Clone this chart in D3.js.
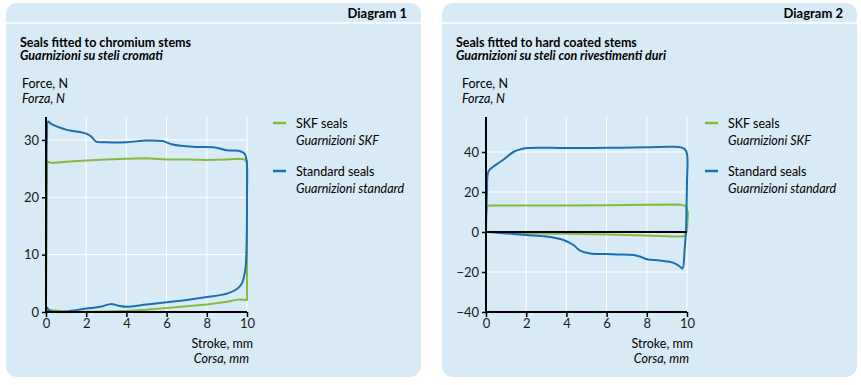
<!DOCTYPE html>
<html>
<head>
<meta charset="utf-8">
<script src="https://cdn.jsdelivr.net/npm/d3@7"></script>
<style>
  body { margin: 0; background: #fff; }
  svg { display: block; font-family: Lato, "Open Sans", sans-serif; }
</style>
</head>
<body>
<script>
"use strict";

// stroke ticks (mm) and force ticks (N)
var strokeTicks = [0, 2, 4, 6, 8, 10];
var forceTicks1 = [0, 10, 20, 30];
var forceTicks2 = [-40, -20, 0, 20, 40];

// Diagram 1 - chromium stems, [stroke, force]
var skfChromium = [[0,0],[0.02,18],[0.06,26.2],[0.3,26.0],[1,26.2],[2,26.4],[3,26.6],[4,26.7],[5,26.8],[6,26.6],
  [7,26.6],[8,26.5],[9,26.6],[9.6,26.7],[9.9,26.6],[10,26.1],[10,14],[10,2.1],[9.6,2.2],[9,1.8],[8,1.3],
  [7,1.0],[6,0.7],[5,0.4],[4,0.2],[3,0.1],[2,0.05],[1,0.1],[0.3,0.3],[0.1,0.4],[0,0]];
var stdChromium = [[0,0],[0.02,20],[0.05,31],[0.1,33.2],[0.3,32.7],[1.0,31.8],[2.0,31.1],[2.25,30.6],[2.5,29.7],
  [3.0,29.6],[4.0,29.6],[5.0,29.9],[5.8,29.8],[6.3,29.2],[7.3,28.8],[8.4,28.7],[9.0,28.2],[9.6,28.1],
  [9.88,27.6],[9.98,26.5],[10.0,20],[9.98,12],[9.92,7.5],[9.75,5.0],[9.5,4.0],[9.0,3.2],[8.0,2.6],
  [7.0,2.1],[6.0,1.7],[5.0,1.3],[4.0,0.9],[3.6,1.1],[3.25,1.4],[2.7,0.9],[2.0,0.6],[1.0,0.1],[0.5,0.05],
  [0.15,0.3],[0.05,0.8],[0,0]];

// Diagram 2 - hard coated stems
var skfCoated = [[0,0],[0,9],[0.05,13],[0.2,13.2],[2,13.2],[4,13.3],[6,13.4],[8,13.6],[9.67,13.7],[9.95,13],
  [10.05,9.5],[10,1],[9.92,-2],[9.7,-2.3],[9.3,-2.2],[8,-1.8],[6,-1.2],[4,-0.9],[2.7,-0.7],[1,-0.3],[0.1,0],[0,0]];
var stdCoated = [[0,0],[0.05,20],[0.12,30.2],[0.37,32.7],[0.7,35],[1.03,37.5],[1.36,40.0],[1.7,41.3],[2.03,42],
  [4,42],[6,42.1],[8,42.4],[9.3,42.6],[9.7,42.3],[9.88,41.5],[10,39],[10,25],[9.98,14],[9.95,1],[9.88,-9],
  [9.78,-18.2],[9.68,-17.6],[9.58,-16.8],[9.3,-15.3],[8.67,-14.3],[8,-13.6],[7.7,-12.4],[7.34,-11.5],
  [6.5,-11.2],[6,-11],[5.18,-10.7],[4.68,-9.3],[4.35,-6.5],[3.85,-4],[3.0,-2.3],[2,-1.5],[1,-0.7],[0.1,0],[0,0]];

var green = "#86bc3b",
    blue = "#1b6fb1",
    panelBg = "#d9eaf7";

var svg = d3.select("body").append("svg")
    .attr("width", 861)
    .attr("height", 385);

function drawPanel(p){
  var g = svg.append("g").attr("transform", "translate(" + p.x + ",3)");

  g.append("rect")
      .attr("width", 415).attr("height", 374)
      .attr("rx", 11).attr("ry", 11)
      .attr("fill", panelBg);
  g.append("line")
      .attr("x1", 0).attr("x2", 415)
      .attr("y1", 20).attr("y2", 20)
      .style("stroke", "#ffffff").style("stroke-width", 1.5);

  g.append("text").attr("x", 401).attr("y", 15)
      .attr("text-anchor", "end")
      .style("font-size", "13px").style("font-weight", "bold")
      .text(p.diagram);

  g.append("text").attr("x", 14).attr("y", 43.5)
      .style("font-size", "12.5px").style("font-weight", "bold")
      .text(p.title);
  g.append("text").attr("x", 14).attr("y", 57)
      .style("font-size", "12.5px").style("font-weight", "bold").style("font-style", "italic")
      .text(p.titleIt);

  g.append("text").attr("x", p.left - 24).attr("y", 85)
      .style("font-size", "12.5px").text("Force, N");
  g.append("text").attr("x", p.left - 24).attr("y", 100)
      .style("font-size", "12.5px").style("font-style", "italic").text("Forza, N");

  var x = d3.scaleLinear().domain([0, 10]).range([p.left, p.left + 201]);
  var y = d3.scaleLinear().domain(p.yDomain).range([309, 114]);

  // grid
  g.append("g").selectAll("line.v")
      .data(strokeTicks.slice(1)).enter().append("line")
      .attr("x1", function(d){ return x(d); }).attr("x2", function(d){ return x(d); })
      .attr("y1", 114).attr("y2", 309)
      .style("stroke", "#ffffff").style("stroke-width", 1);
  g.append("g").selectAll("line.h")
      .data(p.yTicks).enter().append("line")
      .attr("x1", x(0)).attr("x2", x(10))
      .attr("y1", function(d){ return y(d); }).attr("y2", function(d){ return y(d); })
      .style("stroke", "#ffffff").style("stroke-width", 1);

  var smooth = d3.line()
      .x(function(d){ return x(d[0]); })
      .y(function(d){ return y(d[1]); })
      .curve(d3.curveCatmullRom.alpha(0.5));
  var straight = d3.line()
      .x(function(d){ return x(d[0]); })
      .y(function(d){ return y(d[1]); });

  g.append("path").datum(p.skf)
      .attr("d", straight).attr("fill", "none")
      .style("stroke", green).style("stroke-width", 2).style("stroke-linejoin", "round");
  g.append("path").datum(p.std)
      .attr("d", smooth).attr("fill", "none")
      .style("stroke", blue).style("stroke-width", 2);

  if (p.zero) {
    g.append("line")
        .attr("x1", x(0)).attr("x2", x(10))
        .attr("y1", y(0)).attr("y2", y(0))
        .style("stroke", "#000").style("stroke-width", 2);
  }

  var xAxis = g.append("g")
      .attr("transform", "translate(0,309)")
      .call(d3.axisBottom(x).tickValues(strokeTicks).tickSize(5).tickPadding(2).tickFormat(d3.format("d")));
  var yAxis = g.append("g")
      .attr("transform", "translate(" + p.left + ",0)")
      .call(d3.axisLeft(y).tickValues(p.yTicks).tickSize(4).tickPadding(3).tickFormat(d3.format("d")));

  [xAxis, yAxis].forEach(function(a){
    a.select(".domain").style("stroke", "#000").style("stroke-width", 2)
        .attr("d", a === xAxis ? "M" + x(0) + ",0H" + x(10) : "M0," + y(p.yDomain[0]) + "V" + 114);
    a.selectAll(".tick line").style("stroke", "#000").style("stroke-width", 1.5);
    a.selectAll(".tick text").style("font-size", "13px").style("font-family", "Lato, sans-serif").attr("fill", "#1a1a1a");
  });

  g.append("text").attr("x", x(10) + 6).attr("y", 345)
      .attr("text-anchor", "end").style("font-size", "12.5px").text("Stroke, mm");
  g.append("text").attr("x", x(10) + 2).attr("y", 360)
      .attr("text-anchor", "end").style("font-size", "12.5px").style("font-style", "italic").text("Corsa, mm");

  // legend
  var leg = [
    {c: green, a: "SKF seals", b: "Guarnizioni SKF", y: 120},
    {c: blue, a: "Standard seals", b: "Guarnizioni standard", y: 168}
  ];
  leg.forEach(function(l){
    g.append("line")
        .attr("x1", p.legX).attr("x2", p.legX + 13)
        .attr("y1", l.y).attr("y2", l.y)
        .style("stroke", l.c).style("stroke-width", 2.5);
    g.append("text").attr("x", p.legX + 23).attr("y", l.y + 4.5)
        .style("font-size", "12.5px").text(l.a);
    g.append("text").attr("x", p.legX + 23).attr("y", l.y + 21.5)
        .style("font-size", "12.5px").style("font-style", "italic").text(l.b);
  });
}

drawPanel({
  x: 6, left: 40, legX: 267, diagram: "Diagram 1",
  title: "Seals fitted to chromium stems", titleIt: "Guarnizioni su steli cromati",
  yDomain: [0, 34], yTicks: forceTicks1, skf: skfChromium, std: stdChromium, zero: false
});
drawPanel({
  x: 442, left: 44, legX: 263, diagram: "Diagram 2",
  title: "Seals fitted to hard coated stems", titleIt: "Guarnizioni su steli con rivestimenti duri",
  yDomain: [-40, 57.5], yTicks: forceTicks2, skf: skfCoated, std: stdCoated, zero: true
});
</script>
</body>
</html>
